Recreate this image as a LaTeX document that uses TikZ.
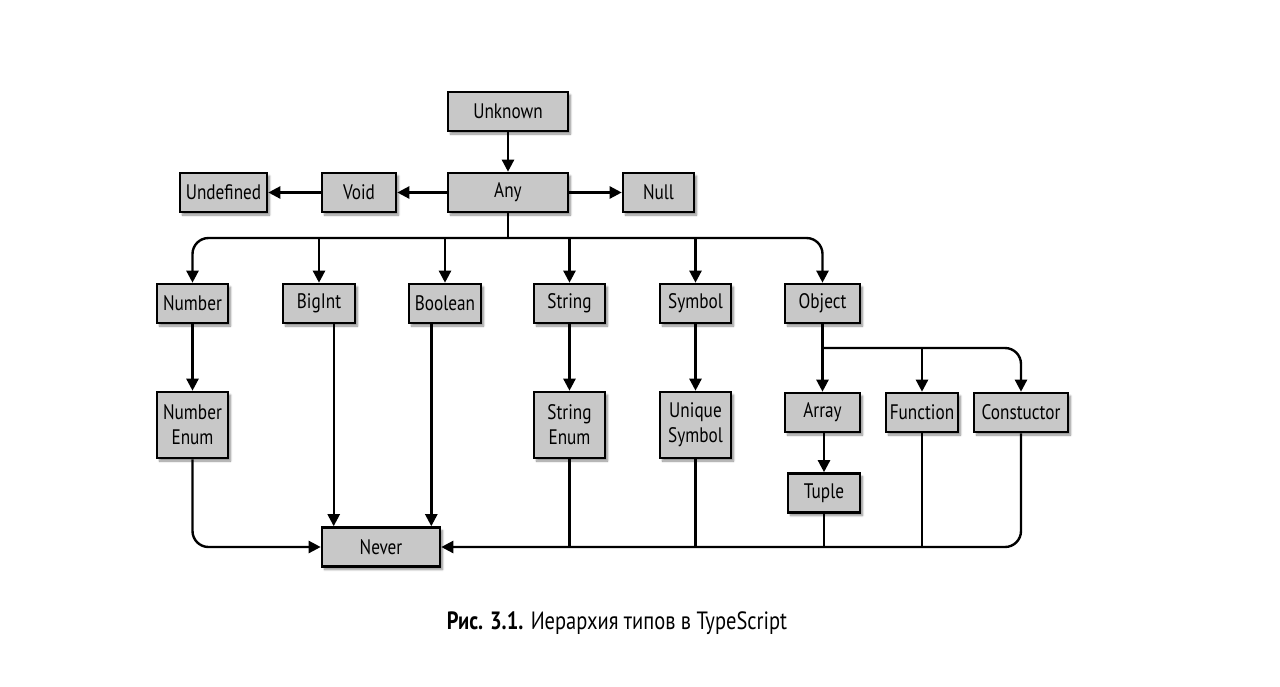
\documentclass[tikz,border=0pt]{standalone}
\usepackage{fontspec}
\setmainfont[FakeStretch=0.82]{PT Sans}
\usetikzlibrary{arrows.meta,shadows.blur}
\definecolor{boxgray}{HTML}{C8C8C8}
\begin{document}
\begin{tikzpicture}[x=1pt,y=-1pt,
  box/.style={draw=black, line width=2.6pt, fill=boxgray, inner sep=0pt,
    minimum height=39pt, align=center,
    font=\fontsize{21}{25}\selectfont,
    blur shadow={shadow xshift=2.5pt, shadow yshift=-3pt, shadow blur steps=6, shadow opacity=45}},
  tall/.style={minimum height=66pt},
  conn/.style={line width=2.4pt, draw=black},
  arr/.style={conn, -{Triangle[length=12pt,width=12pt]}},
  rc/.style={rounded corners=16pt}]
\useasboundingbox (0,0) rectangle (1280,686);
% top
\node[box, minimum width=120pt] (unk) at (508,111.5) {Unknown};
\node[box, minimum width=120pt] (any) at (508,192.5) {Any};
\node[box, minimum width=74pt] (void) at (359,192.5) {Void};
\node[box, minimum width=87pt] (undef) at (223.5,192.5) {Undefined};
\node[box, minimum width=71pt] (null) at (658.5,192.5) {Null};
% row 2
\node[box, minimum width=71pt] (number) at (192.5,303.5) {Number};
\node[box, minimum width=72pt] (bigint) at (319,303.5) {BigInt};
\node[box, minimum width=72pt] (boolean) at (445,303.5) {Boolean};
\node[box, minimum width=71pt] (string) at (569.5,303.5) {String};
\node[box, minimum width=71pt] (symbol) at (695.5,303.5) {Symbol};
\node[box, minimum width=75pt] (object) at (822.5,303.5) {Object};
% row 3
\node[box, tall, minimum width=71pt] (nenum) at (192.5,425) {Number\\Enum};
\node[box, tall, minimum width=71pt] (senum) at (569.5,425) {String\\Enum};
\node[box, tall, minimum width=71pt] (usym) at (695.5,425) {Unique\\Symbol};
\node[box, minimum width=75pt] (array) at (822.5,412.5) {Array};
\node[box, minimum width=72pt] (func) at (922,412.5) {Function};
\node[box, minimum width=94pt] (ctor) at (1021,412.5) {Constuctor};
\node[box, minimum width=72pt] (tuple) at (824,493) {Tuple};
\node[box, minimum width=118pt] (never) at (381,547) {Never};
% caption
\node[font=\fontsize{25}{30}\selectfont, inner sep=0pt] (cap) at (617,623)
  {\textbf{Рис. 3.1.} Иерархия типов в TypeScript};
% connectors top
\draw[arr] (unk) -- (any);
\draw[arr] (any) -- (void);
\draw[arr] (void) -- (undef);
\draw[arr] (any) -- (null);
\coordinate (bus) at (508,238);
\draw[conn] (any.south) -- (bus);
\draw[arr, rc] (bus) -| (number.north);
\draw[arr, rc] (bus) -| (object.north);
\draw[arr] (bigint.north |- bus) -- (bigint.north);
\draw[arr] (boolean.north |- bus) -- (boolean.north);
\draw[arr] (string.north |- bus) -- (string.north);
\draw[arr] (symbol.north |- bus) -- (symbol.north);
% row2 -> row3
\draw[arr] (number) -- (nenum);
\draw[arr] (string) -- (senum);
\draw[arr] (symbol) -- (usym);
\draw[arr] (object) -- (array);
\coordinate (ob) at (822.5,348);
\draw[arr, rc] (ob) -| (ctor.north);
\draw[arr] (ob -| func.north) -- (func.north);
\draw[arr] (array.south -| tuple.north) -- (tuple.north);
% to never
\coordinate (nb) at ([xshift=13pt]never.north west);
\coordinate (nbo) at ([xshift=-10pt]never.north east);
\draw[arr] (bigint.south -| nb) -- (nb);
\draw[arr] (boolean.south -| nbo) -- (nbo);
\draw[arr, rc] (nenum.south) |- (never.west);
\draw[arr, rc] (ctor.south) |- (never.east);
\draw[conn] (senum.south) -- (senum.south |- never.east);
\draw[conn] (usym.south) -- (usym.south |- never.east);
\draw[conn] (tuple.south) -- (tuple.south |- never.east);
\draw[conn] (func.south) -- (func.south |- never.east);
\end{tikzpicture}
\end{document}
